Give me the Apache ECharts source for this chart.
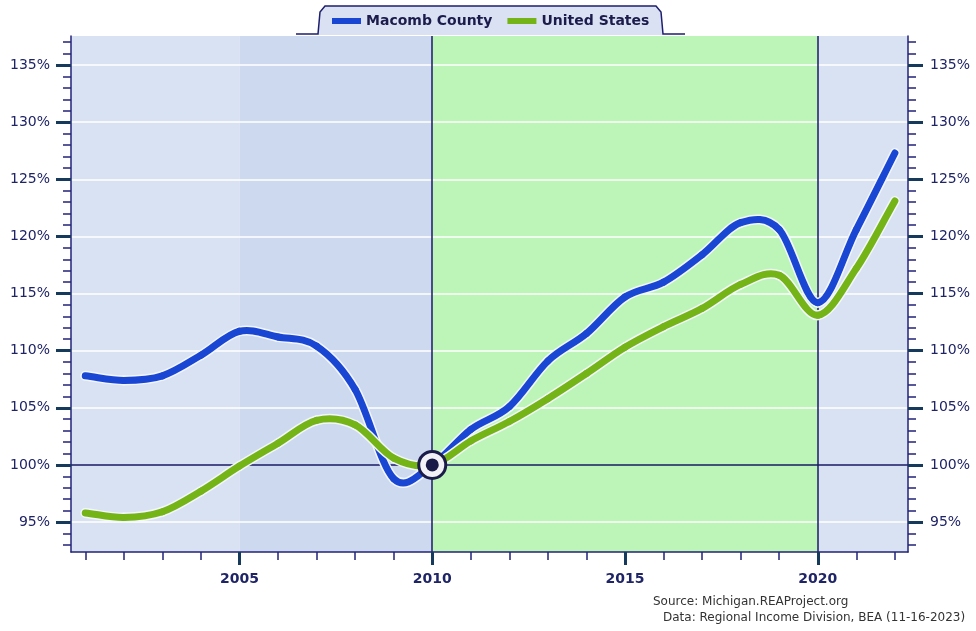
<!DOCTYPE html>
<html>
<head>
<meta charset="utf-8">
<script src="https://cdn.jsdelivr.net/npm/echarts@6/dist/echarts.min.js"></script>
<style>
html, body { margin: 0; padding: 0; background: #fff; }
#main { width: 976px; height: 631px; }
</style>
</head>
<body>
<div id="main"></div>
<script>
// chart data
var years = [2001, 2002, 2003, 2004, 2005, 2006, 2007, 2008, 2009, 2010, 2011,
	2012, 2013, 2014, 2015, 2016, 2017, 2018, 2019, 2020, 2021, 2022];
var macomb = [107.8, 107.4, 107.8, 109.6, 111.7, 111.2, 110.4, 106.6, 98.8, 100, 103.1,
	105.1, 109.1, 111.5, 114.7, 116.0, 118.4, 121.2, 120.6, 114.2, 120.6, 127.3];
var usa = [95.8, 95.4, 95.9, 97.7, 99.9, 101.9, 103.9, 103.5, 100.6, 100, 102.1,
	103.8, 105.8, 108.0, 110.3, 112.1, 113.7, 115.8, 116.6, 113.1, 117.2, 123.1];
var yearLabels = [2005, 2010, 2015, 2020];
var pctLabels = [95, 100, 105, 110, 115, 120, 125, 130, 135];
var seriesNames = ['Macomb County', 'United States'];
var baseYear = 2010;
var baseValue = 100;

(function(window, undefined) {
	var xMin = 2000.63, xMax = 2022.34;
	var yMin = 92.38, yMax = 137.54;
	var axisColor = '#23237a';
	var majorColor = '#163a5c';
	var textColor = '#1f2466';

	var pctTicks = [];
	for (var p = 93; p <= 137; p++) pctTicks.push(p);

	var pairs = function(vals) {
		return years.map(function(y, i) { return [y, vals[i]]; });
	};

	//平滑曲线: 每个数据点画一段到下一个点的贝塞尔曲线
	var curveSeries = function(name, vals, color, width, z) {
		var n = vals.length;
		return {
			name: name, type: 'custom', z: z, silent: true,
			data: pairs(vals),
			itemStyle: { color: color },
			renderItem: function(params, api) {
				var i = params.dataIndex;
				if (i >= n - 1) return null;
				var pt = function(k) {
					k = Math.max(0, Math.min(n - 1, k));
					return api.coord([years[k], vals[k]]);
				};
				var p0 = pt(i - 1), p1 = pt(i), p2 = pt(i + 1), p3 = pt(i + 2);
				var t1 = [(p2[0] - p0[0]) / 2, (p2[1] - p0[1]) / 2];
				var t2 = [(p3[0] - p1[0]) / 2, (p3[1] - p1[1]) / 2];
				if (i == 0) t1 = [p2[0] - p1[0], p2[1] - p1[1]];
				if (i == n - 2) t2 = [p2[0] - p1[0], p2[1] - p1[1]];
				return {
					type: 'bezierCurve',
					shape: {
						x1: p1[0], y1: p1[1], x2: p2[0], y2: p2[1],
						cpx1: p1[0] + t1[0] / 3, cpy1: p1[1] + t1[1] / 3,
						cpx2: p2[0] - t2[0] / 3, cpy2: p2[1] - t2[1] / 3
					},
					style: { stroke: color, lineWidth: width, fill: null, lineCap: 'round' }
				};
			}
		};
	};

	//背景色块和参考线
	var gridLines = pctLabels.filter(function(v) { return v != baseValue; }).map(function(v) {
		return { yAxis: v, lineStyle: { color: '#ffffff', width: 1.5, type: 'solid' } };
	});
	var refLines = gridLines.concat([
		{ yAxis: baseValue, lineStyle: { color: '#1a1a66', width: 1.5, type: 'solid' } },
		{ xAxis: baseYear, lineStyle: { color: '#1a1a66', width: 1.5, type: 'solid' } },
		{ xAxis: 2020, lineStyle: { color: '#1a1a66', width: 1.5, type: 'solid' } }
	]);

	var minorY = function(pos) {
		return {
			type: 'value', position: pos, min: yMin, max: yMax, z: 6,
			axisLine: { show: true, lineStyle: { color: axisColor, width: 1.5 } },
			axisTick: { show: true, customValues: pctTicks, length: 8, lineStyle: { color: axisColor, width: 1.5 } },
			axisLabel: { show: false },
			splitLine: { show: false }
		};
	};
	var majorY = function(pos, margin) {
		return {
			type: 'value', position: pos, min: yMin, max: yMax, z: 6,
			axisLine: { show: false },
			axisTick: { show: true, customValues: pctLabels, length: 15, lineStyle: { color: majorColor, width: 3 } },
			axisLabel: {
				customValues: pctLabels, margin: margin, color: textColor,
				fontFamily: 'DejaVu Sans', fontSize: 14,
				formatter: function(v) { return v + '%'; }
			},
			splitLine: { show: false }
		};
	};

	var myChart = echarts.init(document.getElementById('main'));
	var option = {
		animation: false,
		backgroundColor: '#ffffff',
		grid: { left: 71, right: 68, top: 36, bottom: 79 },
		legend: {
			left: 327, top: 9, itemGap: 15, itemWidth: 29, itemHeight: 6,
			icon: 'rect', selectedMode: false,
			data: seriesNames,
			textStyle: { color: '#1c1c4c', fontFamily: 'DejaVu Sans', fontWeight: 'bold', fontSize: 14 }
		},
		graphic: [
			{
				type: 'polygon', z: 0,
				shape: { points: [[318, 35], [320, 12], [325, 6], [656, 6], [661, 12], [663, 35]] },
				style: { fill: '#d9e1f2' }
			},
			{
				type: 'polyline', z: 1,
				shape: { points: [[296, 34], [318, 34], [320, 12], [325, 6], [656, 6], [661, 12], [663, 34], [685, 34]] },
				style: { stroke: '#1e1e6e', lineWidth: 1.5, fill: null }
			},
			{
				type: 'text', left: 653, top: 596,
				style: { text: 'Source: Michigan.REAProject.org', fill: '#333333', font: '12px "DejaVu Sans"' }
			},
			{
				type: 'text', left: 663, top: 612,
				style: { text: 'Data: Regional Income Division, BEA (11-16-2023)', fill: '#333333', font: '12px "DejaVu Sans"' }
			}
		],
		xAxis: [
			{
				type: 'value', position: 'bottom', min: xMin, max: xMax, z: 6,
				axisLine: { show: true, lineStyle: { color: axisColor, width: 1.5 } },
				axisTick: { show: true, customValues: years, length: 8, lineStyle: { color: axisColor, width: 1.5 } },
				axisLabel: { show: false },
				splitLine: { show: false }
			},
			{
				type: 'value', position: 'bottom', min: xMin, max: xMax, z: 6,
				axisLine: { show: false },
				axisTick: { show: true, customValues: yearLabels, length: 13, lineStyle: { color: majorColor, width: 3 } },
				axisLabel: {
					customValues: yearLabels, margin: 20, color: textColor,
					fontFamily: 'DejaVu Sans', fontWeight: 'bold', fontSize: 14,
					formatter: function(v) { return String(v); }
				},
				splitLine: { show: false }
			}
		],
		yAxis: [minorY('left'), majorY('left', 21), minorY('right'), majorY('right', 22)],
		series: [
			{
				type: 'line', silent: true, z: 1, showSymbol: false,
				data: [],
				markArea: {
					silent: true, z: 1,
					data: [
						[{ xAxis: xMin, itemStyle: { color: '#d9e2f3' } }, { xAxis: 2005 }],
						[{ xAxis: 2005, itemStyle: { color: '#cdd9ee' } }, { xAxis: baseYear }],
						[{ xAxis: baseYear, itemStyle: { color: '#bcf5b7' } }, { xAxis: 2020 }],
						[{ xAxis: 2020, itemStyle: { color: '#d9e2f3' } }, { xAxis: xMax }]
					]
				},
				markLine: {
					silent: true, z: 1.5, symbol: 'none', label: { show: false },
					data: refLines
				}
			},
			curveSeries(null, macomb, '#f3f6fc', 10, 3),
			curveSeries(seriesNames[0], macomb, '#1a46d4', 7, 3.1),
			curveSeries(null, usa, '#f3f6fc', 10, 3.2),
			curveSeries(seriesNames[1], usa, '#74b416', 7, 3.3),
			//基准点
			{
				type: 'scatter', silent: true, z: 7, symbolSize: 27,
				data: [[baseYear, baseValue]],
				itemStyle: { color: '#f2f2f6', borderColor: '#1c1c4a', borderWidth: 3, opacity: 1 }
			},
			{
				type: 'scatter', silent: true, z: 8, symbolSize: 13,
				data: [[baseYear, baseValue]],
				itemStyle: { color: '#1a1a48', opacity: 1 }
			}
		]
	};
	myChart.setOption(option);
})(window);
</script>
</body>
</html>
